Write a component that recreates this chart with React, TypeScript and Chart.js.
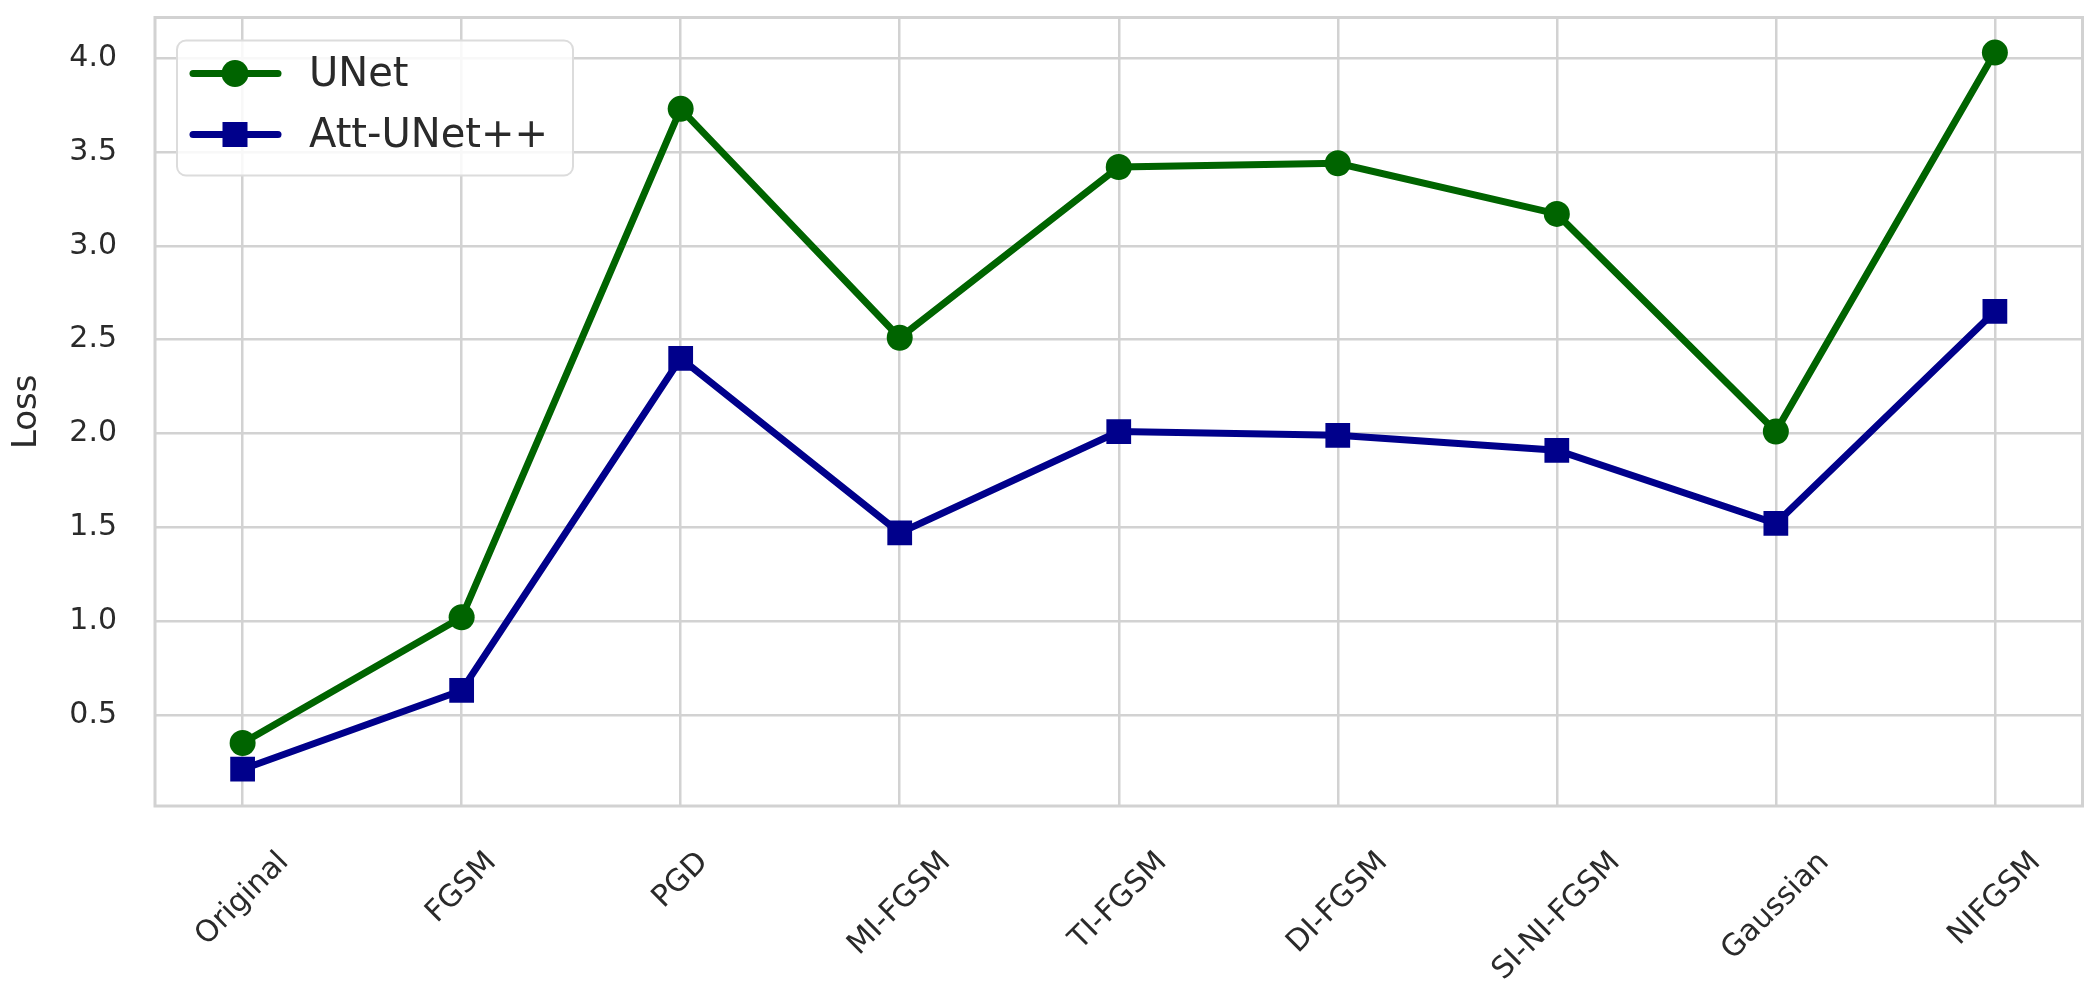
import React, { useEffect, useRef } from "react";
import { Chart, registerables } from "chart.js";

Chart.register(...registerables);

const categories = ["Original", "FGSM", "PGD", "MI-FGSM", "TI-FGSM", "DI-FGSM", "SI-NI-FGSM", "Gaussian", "NIFGSM"];
const unetLoss = [0.35, 1.02, 3.73, 2.51, 3.42, 3.44, 3.17, 2.01, 4.03];
const attUnetLoss = [0.21, 0.63, 2.4, 1.47, 2.01, 1.99, 1.91, 1.52, 2.65];
const yTicks = [0.5, 1.0, 1.5, 2.0, 2.5, 3.0, 3.5, 4.0];
const seriesNames = ["UNet", "Att-UNet++"];
const seriesColors = ["#006400", "#00008B"];
const yLabel = "Loss";

const FONT = "'DejaVu Sans', sans-serif";
const TEXT = "#2a2a2a";
const GRID = "#d2d2d2";

const decor = {
  id: "decor",
  beforeDatasetsDraw(chart: any) {
    const { ctx, chartArea: a } = chart;
    ctx.save();
    ctx.strokeStyle = GRID;
    ctx.lineWidth = 3;
    ctx.strokeRect(a.left, a.top, a.right - a.left, a.bottom - a.top);
    ctx.restore();
  },
  afterDatasetsDraw(chart: any) {
    const { ctx, chartArea: a } = chart;
    const bx = a.left + 22, by = a.top + 23, bw = 396, bh = 135, r = 9;
    ctx.save();
    ctx.beginPath();
    ctx.moveTo(bx + r, by);
    ctx.arcTo(bx + bw, by, bx + bw, by + bh, r);
    ctx.arcTo(bx + bw, by + bh, bx, by + bh, r);
    ctx.arcTo(bx, by + bh, bx, by, r);
    ctx.arcTo(bx, by, bx + bw, by, r);
    ctx.closePath();
    ctx.fillStyle = "rgba(255,255,255,0.85)";
    ctx.fill();
    ctx.strokeStyle = "#dcdcdc";
    ctx.lineWidth = 2;
    ctx.stroke();
    const rows = [by + 33, by + 94];
    seriesNames.forEach((name, i) => {
      const y = rows[i];
      ctx.strokeStyle = seriesColors[i];
      ctx.fillStyle = seriesColors[i];
      ctx.lineWidth = 7;
      ctx.lineCap = "round";
      ctx.beginPath();
      ctx.moveTo(bx + 16, y);
      ctx.lineTo(bx + 101, y);
      ctx.stroke();
      const mx = bx + 58;
      if (i === 0) {
        ctx.beginPath();
        ctx.arc(mx, y, 13.5, 0, Math.PI * 2);
        ctx.fill();
      } else {
        ctx.fillRect(mx - 12.5, y - 12.5, 25, 25);
      }
      ctx.fillStyle = TEXT;
      ctx.font = `40px ${FONT}`;
      ctx.textAlign = "left";
      ctx.textBaseline = "middle";
      ctx.fillText(name, bx + 132, y + 2);
    });
    ctx.restore();
  },
  afterDraw(chart: any) {
    const { ctx, chartArea: a } = chart;
    const xs = chart.scales.x;
    ctx.save();
    ctx.font = `30px ${FONT}`;
    ctx.fillStyle = TEXT;
    ctx.textAlign = "center";
    ctx.textBaseline = "middle";
    categories.forEach((c, i) => {
      const px = xs.getPixelForValue(i);
      const w = ctx.measureText(c).width;
      const h = 30 * 1.1;
      const half = (w + h) / (2 * Math.SQRT2);
      const cy = a.bottom + 40 + half;
      ctx.save();
      ctx.translate(px, cy);
      ctx.rotate(-Math.PI / 4);
      ctx.fillText(c, 0, 0);
      ctx.restore();
    });
    ctx.restore();
  },
};

export default function App() {
  const ref = useRef<HTMLCanvasElement>(null);
  useEffect(() => {
    if (!ref.current) return;
    const chart = new Chart(ref.current, {
      type: "line",
      data: {
        datasets: [
          {
            label: seriesNames[0],
            data: unetLoss.map((v, i) => ({ x: i, y: v })),
            borderColor: seriesColors[0],
            backgroundColor: seriesColors[0],
            borderWidth: 7,
            pointStyle: "circle",
            pointRadius: 13,
            pointBorderWidth: 0,
            pointHoverRadius: 13,
            tension: 0,
            order: 1,
          },
          {
            label: seriesNames[1],
            data: attUnetLoss.map((v, i) => ({ x: i, y: v })),
            borderColor: seriesColors[1],
            backgroundColor: seriesColors[1],
            borderWidth: 7,
            pointStyle: "rect",
            pointRadius: 17.5,
            pointBorderWidth: 0,
            pointHoverRadius: 17.5,
            tension: 0,
            order: 0,
          },
        ],
      },
      options: {
        responsive: false,
        animation: false,
        layout: { padding: { top: 11, right: 16, left: 0, bottom: 0 } },
        plugins: { legend: { display: false }, tooltip: { enabled: false } },
        scales: {
          x: {
            type: "linear",
            min: -0.4,
            max: 8.4,
            afterBuildTicks: (s: any) => {
              s.ticks = categories.map((_, i) => ({ value: i }));
            },
            afterFit: (s: any) => {
              s.height = 192;
              s.paddingLeft = 0;
              s.paddingRight = 0;
            },
            ticks: { display: false },
            grid: { color: GRID, lineWidth: 2.5, drawTicks: false },
            border: { display: false },
          },
          y: {
            type: "linear",
            min: 0.014,
            max: 4.217,
            afterBuildTicks: (s: any) => {
              s.ticks = yTicks.map((v) => ({ value: v }));
            },
            afterFit: (s: any) => {
              s.width = 155;
              s.paddingTop = 0;
              s.paddingBottom = 0;
            },
            ticks: {
              callback: (v: any) => Number(v).toFixed(1),
              font: { family: FONT, size: 30 },
              color: TEXT,
              padding: 38,
            },
            grid: { color: GRID, lineWidth: 2.5, drawTicks: false },
            border: { display: false },
            title: {
              display: true,
              text: yLabel,
              font: { family: FONT, size: 34 },
              color: TEXT,
              padding: { top: 7, bottom: 0 },
            },
          },
        },
      },
      plugins: [decor],
    });
    return () => chart.destroy();
  }, []);
  return (
    <div style={{ position: "absolute", left: 0, top: 0, width: 2100, height: 998, background: "#fff" }}>
      <canvas ref={ref} width={2100} height={998} style={{ display: "block" }} />
    </div>
  );
}
